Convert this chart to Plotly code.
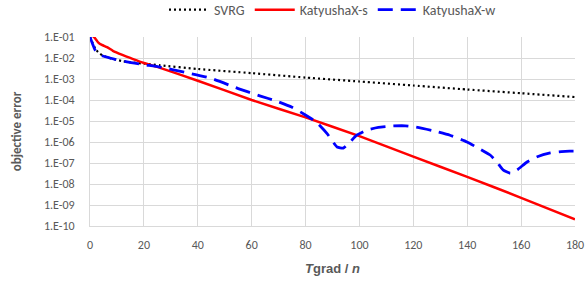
import plotly.graph_objects as go

# SVRG
svrg_x = [0, 1, 2, 3, 5, 8, 12, 16, 20, 26, 40, 60, 80, 100, 120, 140, 160, 180]
svrg_y = [1.0e-1, 5.0e-2, 2.8e-2, 1.9e-2, 1.26e-2, 9.3e-3, 7.1e-3, 6.0e-3, 5.4e-3,
          4.5e-3, 3.0e-3, 1.9e-3, 1.17e-3, 7.6e-4, 4.9e-4, 3.16e-4, 2.1e-4, 1.38e-4]

# KatyushaX-s
ks_x = [0, 1.5, 3, 4.4, 6.3, 8.5, 12, 16, 20, 26, 40, 60, 80, 100, 120, 140, 160, 180]
ks_y = [1.3e-1, 1.0e-1, 5.6e-2, 4.2e-2, 3.3e-2, 2.2e-2, 1.4e-2, 8.9e-3, 5.8e-3,
        3.4e-3, 8.3e-4, 1.0e-4, 1.48e-5, 1.9e-6, 2.0e-7, 2.2e-8, 2.2e-9, 2.1e-10]

# KatyushaX-w
kw_x = [0, 1, 1.9, 3.7, 7.4, 13.7, 20, 26, 35, 44.5, 55, 63, 69.4, 75, 79.8, 84, 88,
        91.7, 94, 96.5, 99, 102.8, 107, 112.5, 117, 121, 127, 133.6, 139.9, 144,
        148.5, 151, 153.3, 156, 158.5, 162.2, 166, 170.8, 175, 178, 180]
kw_y = [1.0e-1, 4.5e-2, 2.4e-2, 1.38e-2, 1.0e-2, 6.5e-3, 4.8e-3, 3.7e-3, 2.1e-3,
        1.12e-3, 3.5e-4, 1.58e-4, 8.7e-5, 4.5e-5, 2.0e-5, 8.9e-6, 2.5e-6, 5.8e-7,
        5.1e-7, 1.0e-6, 2.1e-6, 3.7e-6, 5.0e-6, 5.8e-6, 5.9e-6, 5.1e-6, 3.5e-6,
        2.1e-6, 1.0e-6, 5.2e-7, 2.4e-7, 1.12e-7, 4.7e-8, 3.3e-8, 4.7e-8, 1.12e-7,
        2.0e-7, 3.0e-7, 3.5e-7, 3.7e-7, 3.7e-7]

x_ticks = [0, 20, 40, 60, 80, 100, 120, 140, 160, 180]
y_ticks = [1e-1, 1e-2, 1e-3, 1e-4, 1e-5, 1e-6, 1e-7, 1e-8, 1e-9, 1e-10]
y_ticklabels = ["1.E-01", "1.E-02", "1.E-03", "1.E-04", "1.E-05",
                "1.E-06", "1.E-07", "1.E-08", "1.E-09", "1.E-10"]

FONT = "Calibri, Carlito, Lato, sans-serif"
GRAY = "#595959"

fig = go.Figure()
fig.add_trace(go.Scatter(x=svrg_x, y=svrg_y, mode="lines", name="SVRG",
                         line=dict(color="black", width=2.2, dash="2px,3px", shape="spline", smoothing=0.5)))
fig.add_trace(go.Scatter(x=ks_x, y=ks_y, mode="lines", name="KatyushaX-s",
                         line=dict(color="#ff0000", width=2.5, shape="spline", smoothing=0.5)))
fig.add_trace(go.Scatter(x=kw_x, y=kw_y, mode="lines", name="KatyushaX-w",
                         line=dict(color="#0000ff", width=2.8, dash="15px,8px", shape="spline", smoothing=0.5)))

fig.update_layout(
    width=586, height=287,
    margin=dict(l=90, r=11, t=37, b=61, autoexpand=False),
    paper_bgcolor="white", plot_bgcolor="white",
    font=dict(family=FONT, size=12, color=GRAY),
    showlegend=True,
    legend=dict(orientation="h", x=0.5, xanchor="center", yref="container", y=0.965, yanchor="middle",
                font=dict(family=FONT, size=14, color=GRAY), itemwidth=40,
                bgcolor="rgba(0,0,0,0)"),
    xaxis=dict(range=[0, 180], tickvals=x_ticks, showgrid=True, gridcolor="#d9d9d9",
               gridwidth=1, showline=True, linecolor="#d9d9d9", linewidth=1,
               zeroline=False, ticks="", ticklabelstandoff=8,
               tickfont=dict(family=FONT, size=12, color=GRAY),
               title=dict(text="<b><i>T</i>grad / <i>n</i></b>",
                          font=dict(family="Liberation Sans, Arial", size=13, color=GRAY),
                          standoff=12)),
    yaxis=dict(type="log", range=[-10, -1], tickvals=y_ticks, ticktext=y_ticklabels,
               showgrid=True, gridcolor="#d9d9d9", gridwidth=1, showline=True,
               linecolor="#d9d9d9", linewidth=1, zeroline=False, ticks="",
               ticklabelstandoff=12,
               tickfont=dict(family=FONT, size=12, color=GRAY),
               title=dict(text="<b>objective error</b>",
                          font=dict(family=FONT, size=13, color=GRAY), standoff=19)),
)

fig.write_html("out.html", config={"displayModeBar": False},
               post_script="document.body.style.margin='0';")
